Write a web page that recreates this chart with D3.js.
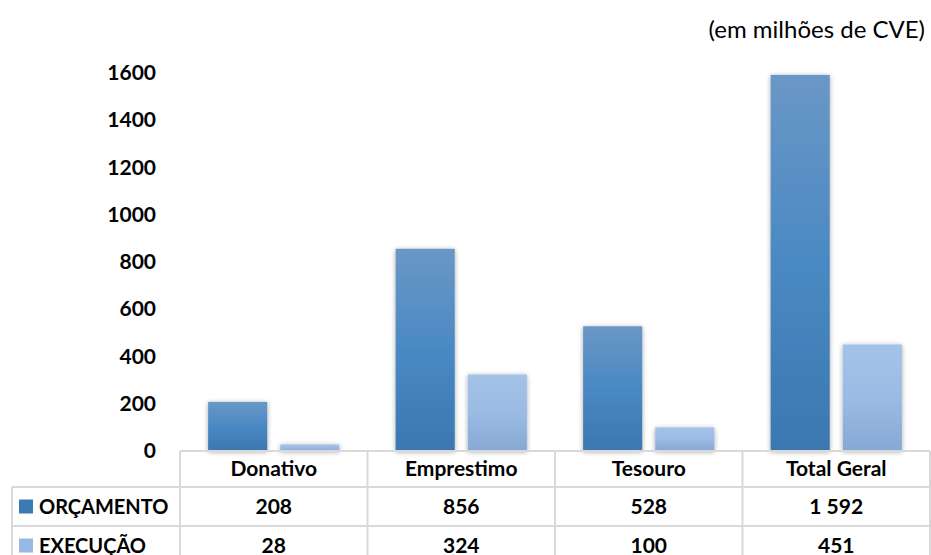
<!DOCTYPE html>
<html>
<head>
<meta charset="utf-8">
<script src="https://cdn.jsdelivr.net/npm/d3@7"></script>
<style>
  body { margin: 0; background: #fff; }
  svg text { font-family: Lato, "Open Sans", sans-serif; fill: #000; }
</style>
</head>
<body>
<div id="chart"></div>
<script>
// data
var categories = ["Donativo", "Emprestimo", "Tesouro", "Total Geral"];
var seriesNames = ["ORÇAMENTO", "EXECUÇÃO"];
var orcamento = [208, 856, 528, 1592];
var execucao = [28, 324, 100, 451];
var yTicks = [0, 200, 400, 600, 800, 1000, 1200, 1400, 1600];

var svgWidth = 931, svgHeight = 555;
var plotLeft = 180, plotRight = 930, plotTop = 73, zeroY = 451;
var rowH = [36, 39, 39];
var gridColor = "#d9d9d9";

var svg = d3.select("#chart")
  .append("svg")
  .attr("width", svgWidth)
  .attr("height", svgHeight);

var defs = svg.append("defs");

// gradients for the two series
var grads = [
  [["0%", "#6a97c6"], ["50%", "#4a89c3"], ["100%", "#3b77b1"]],
  [["0%", "#a5c3e8"], ["50%", "#9abbe4"], ["100%", "#86a8d4"]]
];
grads.forEach(function(stops, i) {
  var g = defs.append("linearGradient")
    .attr("id", "grad" + i)
    .attr("x1", 0).attr("y1", 0).attr("x2", 0).attr("y2", 1);
  stops.forEach(function(s) {
    g.append("stop").attr("offset", s[0]).attr("stop-color", s[1]);
  });
});

var shadow = defs.append("filter").attr("id", "shadow")
  .attr("x", "-30%").attr("y", "-10%").attr("width", "160%").attr("height", "120%");
shadow.append("feDropShadow")
  .attr("dx", 0).attr("dy", 1).attr("stdDeviation", 2.5)
  .attr("flood-color", "#000").attr("flood-opacity", 0.35);

var x = d3.scaleBand()
  .domain(categories)
  .range([plotLeft, plotRight])
  .paddingInner(0).paddingOuter(0);

var xSub = d3.scaleBand()
  .domain(seriesNames)
  .range([0, x.bandwidth()])
  .paddingInner(0.18).paddingOuter(0.39);

var y = d3.scaleLinear()
  .domain([0, 1600])
  .range([zeroY, plotTop]);

// y axis
var yAxis = svg.append("g")
  .attr("transform", "translate(" + plotLeft + ",0)")
  .call(d3.axisLeft(y).tickValues(yTicks).tickSize(0).tickPadding(24).tickFormat(d3.format("d")));
yAxis.select(".domain").remove();
yAxis.selectAll("text")
  .style("font-family", "Lato, 'Open Sans', sans-serif")
  .style("font-size", "21px")
  .style("font-weight", "bold")
  .attr("fill", "#000");

// bars
var seriesData = [orcamento, execucao];
var groups = svg.selectAll(".series")
  .data(seriesData)
  .enter()
  .append("g")
  .attr("class", "series")
  .attr("filter", "url(#shadow)");

groups.selectAll("rect")
  .data(function(d, i) { return d.map(function(v, j) { return {v: v, cat: categories[j], s: i}; }); })
  .enter()
  .append("rect")
  .attr("x", function(d) { return x(d.cat) + xSub(seriesNames[d.s]); })
  .attr("y", function(d) { return y(d.v); })
  .attr("width", xSub.bandwidth())
  .attr("height", function(d) { return zeroY - y(d.v); })
  .attr("fill", function(d) { return "url(#grad" + d.s + ")"; });

// data table
var fmt = d3.formatLocale({decimal: ",", thousands: " ", grouping: [3], currency: ["", ""]}).format(",d");
var tableLeft = 12;
var rowTop = [zeroY, zeroY + rowH[0], zeroY + rowH[0] + rowH[1]];
var tableBottom = rowTop[2] + rowH[2];
var table = svg.append("g").attr("class", "table");

function hline(y0, x0, x1) {
  table.append("line").attr("x1", x0).attr("x2", x1).attr("y1", y0).attr("y2", y0)
    .attr("stroke", gridColor).attr("stroke-width", 2);
}
function vline(x0, y0, y1) {
  table.append("line").attr("x1", x0).attr("x2", x0).attr("y1", y0).attr("y2", y1)
    .attr("stroke", gridColor).attr("stroke-width", 2);
}
hline(rowTop[0], plotLeft, plotRight);
hline(rowTop[1], tableLeft, plotRight);
hline(rowTop[2], tableLeft, plotRight);
hline(tableBottom, tableLeft, plotRight);
vline(tableLeft, rowTop[1], tableBottom);
categories.forEach(function(c) { vline(x(c), rowTop[0], tableBottom); });
vline(plotRight, rowTop[0], tableBottom);

// header row
table.selectAll(".cat")
  .data(categories)
  .enter()
  .append("text")
  .attr("x", function(d) { return x(d) + x.bandwidth() / 2; })
  .attr("y", rowTop[0] + rowH[0] / 2)
  .attr("dy", "0.35em")
  .attr("text-anchor", "middle")
  .style("font-size", "21px")
  .style("font-weight", "bold")
  .text(function(d) { return d; });

var keyColors = ["#3d7ab4", "#98b9e3"];
seriesData.forEach(function(vals, i) {
  var cy = rowTop[i + 1] + rowH[i + 1] / 2;
  table.append("rect")
    .attr("x", 19).attr("y", cy - 7)
    .attr("width", 14).attr("height", 14)
    .attr("fill", keyColors[i]);
  table.append("text")
    .attr("x", 39).attr("y", cy).attr("dy", "0.35em")
    .style("font-size", "20px").style("font-weight", "bold")
    .text(seriesNames[i]);
  table.selectAll(".v" + i)
    .data(vals)
    .enter()
    .append("text")
    .attr("x", function(d, j) { return x(categories[j]) + x.bandwidth() / 2; })
    .attr("y", cy).attr("dy", "0.35em")
    .attr("text-anchor", "middle")
    .style("font-size", "21px").style("font-weight", "bold")
    .text(function(d) { return fmt(d); });
});

// unit note
svg.append("text")
  .attr("x", 925).attr("y", 38)
  .attr("text-anchor", "end")
  .style("font-size", "24px")
  .text("(em milhões de CVE)");
</script>
</body>
</html>
